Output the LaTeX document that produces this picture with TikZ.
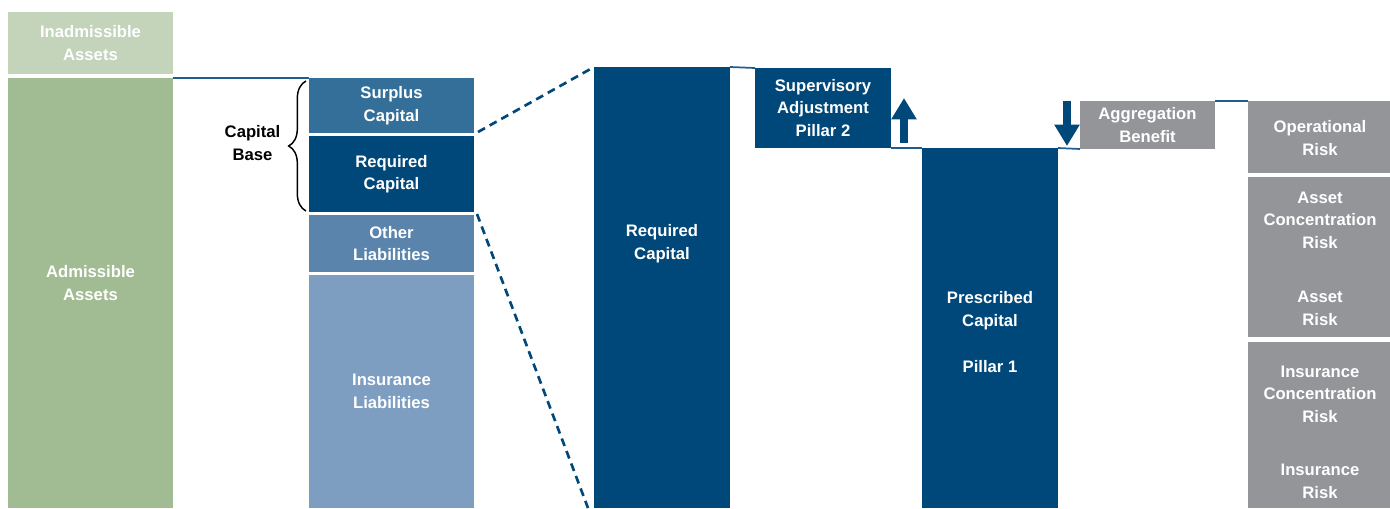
\documentclass[tikz,border=0pt]{standalone}
\usepackage{fontspec}
\setmainfont{Liberation Sans}
\usetikzlibrary{fit,arrows.meta,decorations.pathreplacing,calc,backgrounds}
\definecolor{greenlight}{HTML}{C4D4BB}
\definecolor{greenmid}{HTML}{A1BC92}
\definecolor{bluesurplus}{HTML}{346F9A}
\definecolor{bluedark}{HTML}{00487A}
\definecolor{blueother}{HTML}{5B84AD}
\definecolor{bluelight}{HTML}{7D9DC1}
\definecolor{greybox}{HTML}{939598}
\definecolor{linkblue}{HTML}{245C8C}

\begin{document}
\begin{tikzpicture}[x=0.75pt,y=-0.75pt,
  txt/.style={font=\fontsize{12.5}{16.8}\selectfont\bfseries, text=white, align=center, inner sep=0pt},
  block/.style={fill=#1, inner sep=0pt, outer sep=0pt, draw=none},
  level/.style={draw=linkblue, line width=1.3pt},
  zoomline/.style={draw=bluedark, line width=2pt, dash pattern=on 6pt off 4pt},
  movearrow/.style={draw=bluedark, line width=5.3pt, -{Triangle[width=18pt,length=16pt]}}]
\useasboundingbox (0,0) rectangle (1390,508);

% balance sheet: assets
\node[block=greenlight, fit={(8,12) (173,74)}] (inadm) {};
\node[txt] (inadmtxt) at (inadm.center) {Inadmissible\\Assets};
\node[block=greenmid, fit={(8,78) (173,508)}] (adm) {};
\node[txt] (admtxt) at (90.5,283) {Admissible\\Assets};

% balance sheet: liabilities and capital
\node[block=bluesurplus, fit={(309,78) (474,133)}] (surplus) {};
\node[txt] (surplustxt) at (surplus.center) {Surplus\\Capital};
\node[block=bluedark, fit={(309,136) (474,212)}] (reqs) {};
\node[txt] (reqstxt) at (reqs.center) {Required\\Capital};
\node[block=blueother, fit={(309,215) (474,272)}] (other) {};
\node[txt] (othertxt) at (other.center) {Other\\Liabilities};
\node[block=bluelight, fit={(309,275) (474,508)}] (insl) {};
\node[txt] (insltxt) at (insl.center) {Insurance\\Liabilities};

\node[txt, text=black] (capbase) at (252.5,143) {Capital\\Base};
\draw[decorate, decoration={brace, amplitude=13pt}, line width=1.1pt] (306,211) -- (306,81);

% required capital build-up
\node[block=bluedark, fit={(594,67) (730,508)}] (bigreq) {};
\node[txt] (bigreqtxt) at (662,243.5) {Required\\Capital};
\node[block=bluedark, fit={(755,68) (891,148)}] (superv) {};
\node[txt] (supervtxt) at (superv.center) {Supervisory\\Adjustment\\Pillar 2};
\node[block=bluedark, fit={(922,148) (1058,508)}] (presc) {};
\node[txt] (presctxt) at (990,310.5) {Prescribed\\Capital};
\node[txt] (pillartxt) at (990,367) {Pillar 1};
\node[block=greybox, fit={(1080,101) (1215,149)}] (aggr) {};
\node[txt] (aggrtxt) at (aggr.center) {Aggregation\\Benefit};

% risk modules
\node[block=greybox, fit={(1248,101) (1392,173)}] (oper) {};
\node[txt] (opertxt) at (1320,138) {Operational\\Risk};
\node[block=greybox, fit={(1248,177) (1392,337)}] (riska) {};
\node[txt] (acrtxt) at (1320,220) {Asset\\Concentration\\Risk};
\node[txt] (artxt) at (1320,308.5) {Asset\\Risk};
\node[block=greybox, fit={(1248,342) (1392,508)}] (riski) {};
\node[txt] (icrtxt) at (1320,394) {Insurance\\Concentration\\Risk};
\node[txt] (irtxt) at (1320,481.5) {Insurance\\Risk};

% level connectors
\begin{scope}[on background layer]
\draw[level] (adm.north east) -- (surplus.north west);
\draw[level] (bigreq.north east) -- (superv.north west);
\draw[level] (superv.south east) -- (presc.north west);
\draw[level] (presc.north east) -- (aggr.south west);
\draw[level] (aggr.north east) -- (oper.north west);
\end{scope}

% zoom from the small required capital block to the large one
\coordinate (zoomfoot) at (588,508);
\draw[zoomline] ($(surplus.south east)+(4,-1)$) -- (bigreq.north west);
\draw[zoomline] ($(reqs.south east)+(3,2)$) -- (zoomfoot);

% adjustment arrows
\coordinate (upbase) at (904,143);
\coordinate (uptip) at (904,98);
\draw[movearrow] (upbase) -- (uptip);
\coordinate (downbase) at (1067,101);
\coordinate (downtip) at (1067,146);
\draw[movearrow] (downbase) -- (downtip);
\end{tikzpicture}
\end{document}
